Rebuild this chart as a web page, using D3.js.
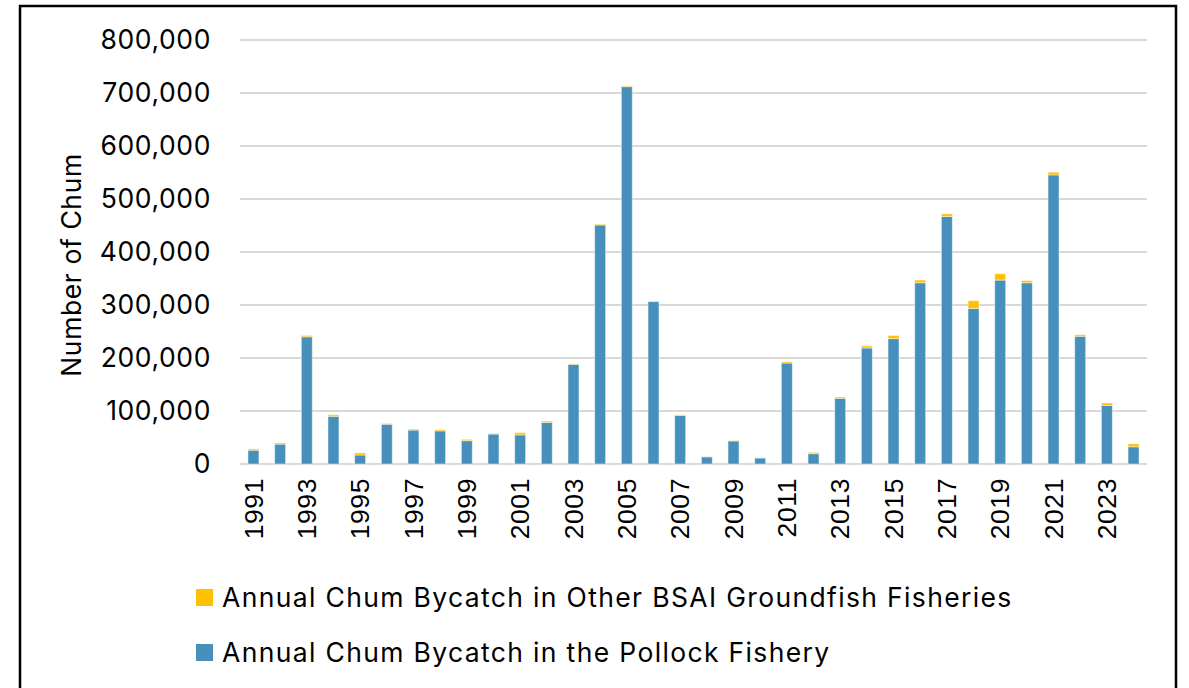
<!DOCTYPE html>
<html>
<head>
<meta charset="utf-8">
<script src="https://cdn.jsdelivr.net/npm/d3@7/dist/d3.min.js"></script>
<style>
  html, body { margin: 0; padding: 0; background: #fff; }
  svg { display: block; font-family: Inter, "Open Sans", "Liberation Sans", sans-serif; }
</style>
</head>
<body>
<svg id="chart" width="1189" height="688"></svg>
<script>
// Annual chum salmon bycatch, BSAI, 1991-2024
const years = d3.range(1991, 2025);
const pollock = [
  26000, 37500, 240000, 90000, 17000, 75000, 64000, 62500, 44000, 56500,
  55000, 78500, 188000, 451000, 712000, 306500, 91500, 13500, 43500, 11300,
  190500, 19500, 124000, 219000, 236500, 342000, 467000, 293500, 347000, 342000,
  545500, 241000, 110500, 32500
];
const other = [
  2500, 2500, 2500, 3000, 4000, 1500, 2000, 2500, 2500, 1200,
  4000, 2500, 1000, 1500, 1500, 1000, 1500, 300, 500, 300,
  2500, 2500, 2500, 4000, 6000, 5000, 5000, 14500, 12000, 4000,
  5000, 3000, 4500, 5500
];
const yTicks = [0, 100000, 200000, 300000, 400000, 500000, 600000, 700000, 800000];
const seriesNames = [
  "Annual Chum Bycatch in Other BSAI Groundfish Fisheries",
  "Annual Chum Bycatch in the Pollock Fishery"
];
const colors = { pollock: "#4690bb", other: "#ffc000" };

const FONT_SIZE = 26.5;
const LETTER_SPACING = 0.6;

const svg = d3.select("#chart");

// outer frame
svg.append("rect")
  .attr("x", 20).attr("y", 6)
  .attr("width", 1156).attr("height", 700)
  .attr("fill", "none").attr("stroke", "#000").attr("stroke-width", 2.5);

const plot = { left: 240, right: 1147, top: 40, bottom: 464 };

const x = d3.scaleBand()
  .domain(years)
  .range([plot.left, plot.right])
  .paddingInner(0.59)
  .paddingOuter(0.3);

const y = d3.scaleLinear()
  .domain([0, 800000])
  .range([plot.bottom, plot.top]);

// gridlines
svg.append("g")
  .selectAll("line")
  .data(yTicks)
  .join("line")
  .attr("x1", plot.left).attr("x2", plot.right)
  .attr("y1", d => y(d)).attr("y2", d => y(d))
  .attr("stroke", "#d9d9d9").attr("stroke-width", 2);

// y axis labels
const yAxis = d3.axisLeft(y)
  .tickValues(yTicks)
  .tickFormat(d3.format(","))
  .tickSize(0)
  .tickPadding(0);
const gy = svg.append("g")
  .attr("transform", `translate(${plot.left - 29},0)`)
  .call(yAxis);
gy.select(".domain").remove();
gy.selectAll("text")
  .attr("font-size", FONT_SIZE)
  .attr("letter-spacing", LETTER_SPACING)
  .attr("fill", "#000")
  .attr("font-family", "Inter, 'Open Sans', sans-serif");

// y axis title
svg.append("text")
  .attr("transform", `translate(81,${(plot.top + plot.bottom) / 2 + 13}) rotate(-90)`)
  .attr("text-anchor", "middle")
  .attr("font-size", FONT_SIZE)
  .attr("letter-spacing", LETTER_SPACING)
  .attr("fill", "#000")
  .text("Number of Chum");

// stacked bars
const stackData = years.map((yr, i) => ({ year: yr, pollock: pollock[i], other: other[i] }));
const stack = d3.stack().keys(["pollock", "other"]);
const layers = stack(stackData);

svg.append("g")
  .selectAll("g")
  .data(layers)
  .join("g")
  .attr("fill", d => colors[d.key])
  .selectAll("rect")
  .data(d => d)
  .join("rect")
  .attr("x", d => x(d.data.year))
  .attr("width", x.bandwidth())
  .attr("y", d => y(d[1]))
  .attr("height", d => y(d[0]) - y(d[1]))
  .attr("stroke", "rgba(255,255,255,0.45)")
  .attr("stroke-width", 1);

// x axis labels (every other year)
const xAxis = d3.axisBottom(x)
  .tickValues(years.filter(yr => (yr - 1991) % 2 === 0))
  .tickSize(0)
  .tickPadding(0);
const gx = svg.append("g")
  .attr("transform", `translate(0,${plot.bottom})`)
  .call(xAxis);
gx.select(".domain").remove();
gx.selectAll("text")
  .attr("font-size", FONT_SIZE)
  .attr("letter-spacing", LETTER_SPACING)
  .attr("fill", "#000")
  .attr("text-anchor", "end")
  .attr("dy", "0.35em")
  .attr("transform", "translate(0,14) rotate(-90)")
  .attr("x", 0).attr("y", 0);

// legend
const legend = svg.append("g");
const legendItems = [
  { name: seriesNames[0], color: colors.other, y: 598 },
  { name: seriesNames[1], color: colors.pollock, y: 653 }
];
legendItems.forEach(it => {
  legend.append("rect")
    .attr("x", 196).attr("y", it.y - 9)
    .attr("width", 17).attr("height", 17)
    .attr("fill", it.color);
  legend.append("text")
    .attr("x", 222).attr("y", it.y)
    .attr("dy", "0.35em")
    .attr("font-size", FONT_SIZE)
    .attr("letter-spacing", 1.35)
    .attr("fill", "#000")
    .text(it.name);
});
</script>
</body>
</html>
